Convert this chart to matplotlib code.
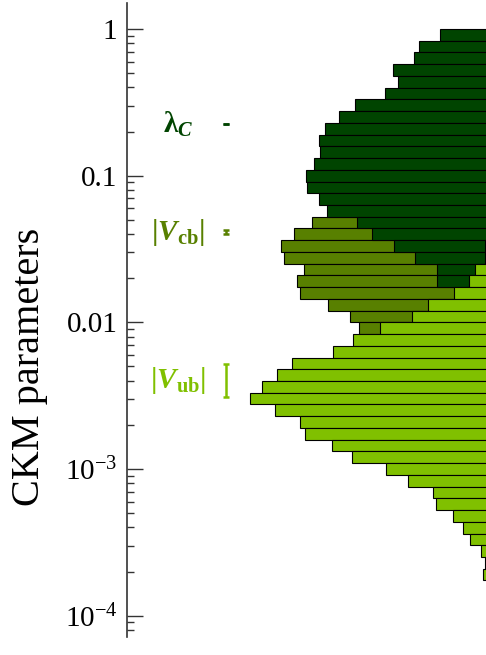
import numpy as np
import matplotlib
matplotlib.use("Agg")
import matplotlib.pyplot as plt

plt.rcParams['font.family'] = ['Liberation Serif', 'DejaVu Serif']
plt.rcParams['mathtext.fontset'] = 'custom'
plt.rcParams['mathtext.rm'] = 'Liberation Serif'
plt.rcParams['mathtext.it'] = 'Liberation Serif:italic'
plt.rcParams['mathtext.bf'] = 'Liberation Serif:bold'
plt.rcParams['mathtext.bfit'] = 'Liberation Serif:italic:bold'

# log10 bin width shared by all three histograms, first bin starts at 1
BIN_WIDTH = 0.08

# half-widths of the horizontal histograms (arbitrary units), bin 0 = top
lambda_bins = list(range(0, 24))
lambda_counts = [46, 67, 72, 93, 88, 101, 131, 147, 161, 167, 166, 172,
                 180, 179, 167, 159, 129, 114, 92, 71, 49, 49, 20, 8]

vcb_bins = list(range(14, 29))
vcb_counts = [40, 110, 174, 192, 205, 202, 182, 189, 186, 158, 136, 127,
              90, 50, 20]

vub_bins = list(range(18, 47))
vub_counts = [1, 1, 11, 17, 32, 58, 74, 106, 133, 153, 194, 209, 224, 236,
              211, 186, 181, 154, 134, 100, 78, 53, 50, 33, 23, 16, 5, 0.5, 3]

# measured values: central value, lower, upper
param_names = [r'$\boldsymbol{\lambda}_{\boldsymbol{C}}$',
               r'$\mathbf{|}\boldsymbol{V}_{\mathbf{cb}}\mathbf{|}$',
               r'$\mathbf{|}\boldsymbol{V}_{\mathbf{ub}}\mathbf{|}$']
param_center = [0.2250, 0.0412, 0.0040]
param_low = [0.2243, 0.0400, 0.0031]
param_high = [0.2257, 0.0425, 0.0052]

colors = ['#004400', '#588000', '#80c000']

y_ticks = [1, 0.1, 0.01, 1e-3, 1e-4]
y_tick_labels = ['1', '0.1', '0.01', r'$10^{-3}$', r'$10^{-4}$']


def draw_hist(ax, bins, counts, color, z):
    bins = np.asarray(bins)
    counts = np.asarray(counts, dtype=float)
    top = 10.0 ** (-BIN_WIDTH * bins)
    bottom = 10.0 ** (-BIN_WIDTH * (bins + 1))
    ax.barh(bottom, 2 * counts, height=top - bottom, left=-counts,
            align='edge', color=color, edgecolor='black', linewidth=0.8,
            zorder=z)


fig = plt.figure(figsize=(4.86, 6.55), dpi=100)
ax = fig.add_axes([0.2613, 0.0281, 0.7387, 0.9678])

# olive behind, dark in the middle, light green on top
draw_hist(ax, vcb_bins, vcb_counts, colors[1], 1)
draw_hist(ax, lambda_bins, lambda_counts, colors[0], 2)
draw_hist(ax, vub_bins, vub_counts, colors[2], 3)

for name, c, lo, hi, col in zip(param_names, param_center, param_low,
                                param_high, colors):
    ax.errorbar(-260, c, yerr=[[c - lo], [hi - c]], color=col, elinewidth=1.8,
                capsize=2.2, capthick=1.8, zorder=5)
    ax.text(-308, c, name, color=col, fontsize=21, ha='center',
            va='center', zorder=5)

ax.set_yscale('log')
ax.set_ylim(7.2e-5, 1.512)
ax.set_xlim(-359, 0)

ax.set_yticks(y_ticks)
ax.set_yticklabels(y_tick_labels)
ax.tick_params(axis='y', which='major', direction='in', length=11.5,
               width=1.0, labelsize=21, pad=7, color='#333333')
ax.tick_params(axis='y', which='minor', direction='in', length=4.8,
               width=1.0, color='#333333')
ax.set_xticks([])

for side in ['top', 'right', 'bottom']:
    ax.spines[side].set_visible(False)
ax.spines['left'].set_color('#333333')
ax.spines['left'].set_linewidth(1.2)

ax.set_ylabel('CKM parameters', fontsize=29)
ax.yaxis.set_label_coords(-0.22, 0.425)

fig.savefig('out.png', dpi=100)
